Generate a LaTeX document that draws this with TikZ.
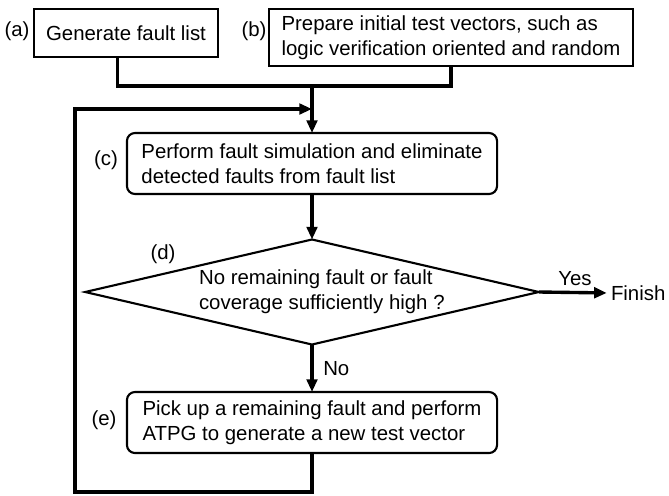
\documentclass[tikz,border=0pt]{standalone}
\usepackage{fontspec}
\setmainfont{Liberation Sans}
\usepackage{tikz}
\usetikzlibrary{shapes.geometric, arrows.meta}

\begin{document}
\begin{tikzpicture}[x=0.025cm, y=-0.025cm,
  every node/.style={font=\fontsize{14.5}{17.5}\selectfont, inner sep=0pt, outer sep=0pt},
  stepbox/.style={draw, line width=1.5pt, align=left, minimum height=1.525cm},
  roundbox/.style={stepbox, rounded corners=0.2cm, minimum width=9.25cm},
  decision/.style={draw, diamond, line width=1.5pt, aspect=4.32, minimum width=11.125cm, minimum height=2.575cm, align=left},
  flow/.style={line width=2.4pt},
  arr/.style={flow, -{Triangle[length=9pt,width=7.5pt]}}]
\useasboundingbox (0,0) rectangle (669,495);
% steps of the flow
\node[stepbox, minimum width=4.6cm, minimum height=1.2cm] (A) at (126,33) {Generate fault list};
\node[stepbox, minimum width=9.1cm, minimum height=1.425cm] (B) at (451,37.5) {Prepare initial test vectors, such as\\logic verification oriented and random};
\node[roundbox] (C) at (312,163.5) {Perform fault simulation and eliminate\\detected faults from fault list};
\node[decision] (D) at (312,292) {\hspace*{14pt}No remaining fault or fault\\\hspace*{14pt}coverage sufficiently high ?};
\node[roundbox] (E) at (312,422.5) {Pick up a remaining fault and perform\\ATPG to generate a new test vector};
\node[anchor=west] (F) at (611,293) {Finish};
% step labels
\foreach \n/\x/\y/\t in {la/17/31/a, lb/254/31/b, lc/106/160/c, ld/163/254/d, le/104/420/e} {
  \node (\n) at (\x,\y) {(\t)};
}
% loop corners
\coordinate (M) at (312,86);
\coordinate (J) at (312,109);
\coordinate (Lb) at (75,492);
\coordinate (Lt) at (75,109);
% connectors
\draw[flow] ([xshift=-0.22cm]A.south) |- (M) -| (B.south);
\draw[arr] (M) -- (C.north);
\draw[arr] (C.south) -- (D.north);
\draw[arr, shorten >=3pt] (D.east) -- (F.west) node[midway, above=5pt] {Yes};
\draw[arr] (D.south) -- (E.north) node[midway, right=8pt] {No};
\draw[arr] (E.south) |- (Lb) -- (Lt) -- (J);
\end{tikzpicture}
\end{document}
